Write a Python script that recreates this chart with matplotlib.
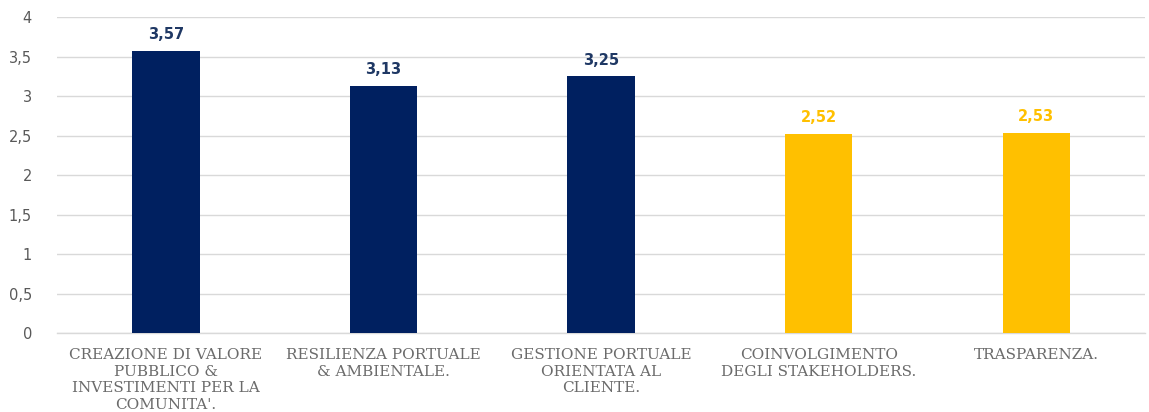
import matplotlib
matplotlib.use("Agg")
import matplotlib.pyplot as plt
import numpy as np

categories = [
    "CREAZIONE DI VALORE\nPUBBLICO &\nINVESTIMENTI PER LA\nCOMUNITA'.",
    "RESILIENZA PORTUALE\n& AMBIENTALE.",
    "GESTIONE PORTUALE\nORIENTATA AL\nCLIENTE.",
    "COINVOLGIMENTO\nDEGLI STAKEHOLDERS.",
    "TRASPARENZA.",
]
values = [3.57, 3.13, 3.25, 2.52, 2.53]
value_labels = ["3,57", "3,13", "3,25", "2,52", "2,53"]
yticks = [0, 0.5, 1, 1.5, 2, 2.5, 3, 3.5, 4]
ytick_labels = ["0", "0,5", "1", "1,5", "2", "2,5", "3", "3,5", "4"]

navy = "#002060"
gold = "#FFC000"
bar_colors = [navy, navy, navy, gold, gold]
label_colors = ["#1F3864", "#1F3864", "#1F3864", gold, gold]

fig = plt.figure(figsize=(11.49, 4.12), dpi=100)
ax = fig.add_axes([0.0496, 0.1917, 0.947, 0.767])

x = np.arange(len(categories))
ax.bar(x, values, width=0.31, color=bar_colors, zorder=3)

for xi, v, lab, c in zip(x, values, value_labels, label_colors):
    ax.text(xi, v + 0.11, lab, ha="center", va="bottom", fontsize=10.5,
            fontweight="bold", color=c, family="DejaVu Sans")

ax.set_xlim(-0.5, len(categories) - 0.5)
ax.set_ylim(0, 4)
ax.set_yticks(yticks)
ax.set_yticklabels(ytick_labels, fontsize=10.5, color="#595959",
                   family="DejaVu Sans")
ax.set_xticks(x)
ax.set_xticklabels(categories, fontsize=11, color="#6b6b6b",
                   family="DejaVu Serif", linespacing=1.22)
ax.tick_params(axis="both", length=0)
ax.tick_params(axis="x", pad=11)
ax.tick_params(axis="y", pad=18)

ax.yaxis.grid(True, color="#D9D9D9", linewidth=1, zorder=0)
for side in ["top", "right", "left"]:
    ax.spines[side].set_visible(False)
ax.spines["bottom"].set_color("#D9D9D9")
ax.spines["bottom"].set_linewidth(1)

fig.savefig("out.png", dpi=100)
